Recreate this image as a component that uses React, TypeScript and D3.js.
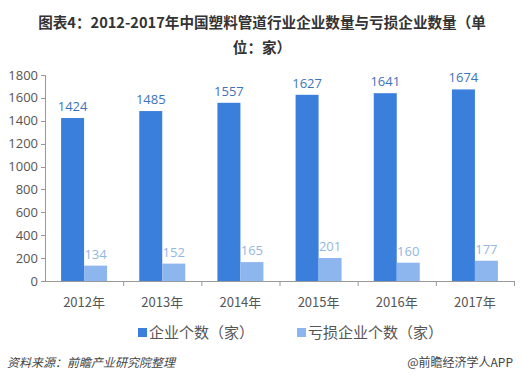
import React from "react";
import * as d3 from "d3";

const categories = ["2012年", "2013年", "2014年", "2015年", "2016年", "2017年"];
const enterprises = [1424, 1485, 1557, 1627, 1641, 1674];
const lossEnterprises = [134, 152, 165, 201, 160, 177];
const yTicks = [0, 200, 400, 600, 800, 1000, 1200, 1400, 1600, 1800];
const seriesNames = ["企业个数（家）", "亏损企业个数（家）"];

const W = 522, H = 383;
const left = 45, right = 514, top = 75, bottom = 281;
const C1 = "#3b7fdc", C2 = "#8db5ee";
const L1 = "#3d73bd", L2 = "#93b6e2";
const FONT = "'Open Sans', 'Noto Sans CJK SC', sans-serif";
const CJK = "'Noto Sans CJK SC', sans-serif";

export default function App() {
  const x = d3.scaleBand<string>().domain(categories).range([left, right]).paddingInner(0).paddingOuter(0);
  const y = d3.scaleLinear().domain([0, 1800]).range([bottom, top]);
  const bw = 23;
  return (
    <svg width={W} height={H} style={{ position: "absolute", left: 0, top: 0, background: "#fff" }}>
      <text x={W / 2 + 1} y={28} textAnchor="middle" fontFamily={CJK} fontWeight="bold" fontSize={14.6} fill="#333">
        图表4：2012-2017年中国塑料管道行业企业数量与亏损企业数量（单
      </text>
      <text x={W / 2 + 1} y={53} textAnchor="middle" fontFamily={CJK} fontWeight="bold" fontSize={14.6} fill="#333">
        位：家）
      </text>
      {/* y axis */}
      <line x1={left + 0.5} x2={left + 0.5} y1={top} y2={bottom} stroke="#999" />
      {yTicks.map((t) => (
        <g key={t}>
          <line x1={left - 4} x2={left} y1={Math.round(y(t)) + 0.5} y2={Math.round(y(t)) + 0.5} stroke="#999" />
          <text x={left - 7} y={y(t) + 4.5} textAnchor="end" fontFamily={FONT} fontSize={13} fill="#555">{t}</text>
        </g>
      ))}
      {/* x axis */}
      <line x1={left} x2={right} y1={bottom + 0.5} y2={bottom + 0.5} stroke="#999" />
      {categories.map((c, i) => (
        <line key={"tk" + i} x1={x(c)! + x.bandwidth() + 0.5} x2={x(c)! + x.bandwidth() + 0.5} y1={bottom} y2={bottom + 5} stroke="#999" />
      ))}
      {categories.map((c, i) => {
        const cx = x(c)! + x.bandwidth() / 2;
        return (
          <g key={c}>
            <rect x={cx - bw} y={y(enterprises[i])} width={bw} height={bottom - y(enterprises[i])} fill={C1} />
            <rect x={cx} y={y(lossEnterprises[i])} width={bw} height={bottom - y(lossEnterprises[i])} fill={C2} />
            <text x={cx - bw / 2} y={y(enterprises[i]) - 7} textAnchor="middle" fontFamily={FONT} fontSize={13} fill={L1}>{enterprises[i]}</text>
            <text x={cx + bw / 2} y={y(lossEnterprises[i]) - 7} textAnchor="middle" fontFamily={FONT} fontSize={13} fill={L2}>{lossEnterprises[i]}</text>
            <text x={cx} y={bottom + 26} textAnchor="middle" fontFamily={CJK} fontSize={13} fill="#555">{c}</text>
          </g>
        );
      })}
      {/* legend */}
      <rect x={138} y={328} width={9} height={9} fill={C1} />
      <text x={149} y={338} fontFamily={CJK} fontSize={15} fill="#555">{seriesNames[0]}</text>
      <rect x={297} y={328} width={9} height={9} fill={C2} />
      <text x={308} y={338} fontFamily={CJK} fontSize={15} fill="#555">{seriesNames[1]}</text>
      {/* footer */}
      <text x={7} y={367} fontFamily={CJK} fontSize={12} fontStyle="italic" fill="#444">资料来源：前瞻产业研究院整理</text>
      <text x={513} y={367} textAnchor="end" fontFamily={CJK} fontSize={12} fill="#444">@前瞻经济学人APP</text>
    </svg>
  );
}
